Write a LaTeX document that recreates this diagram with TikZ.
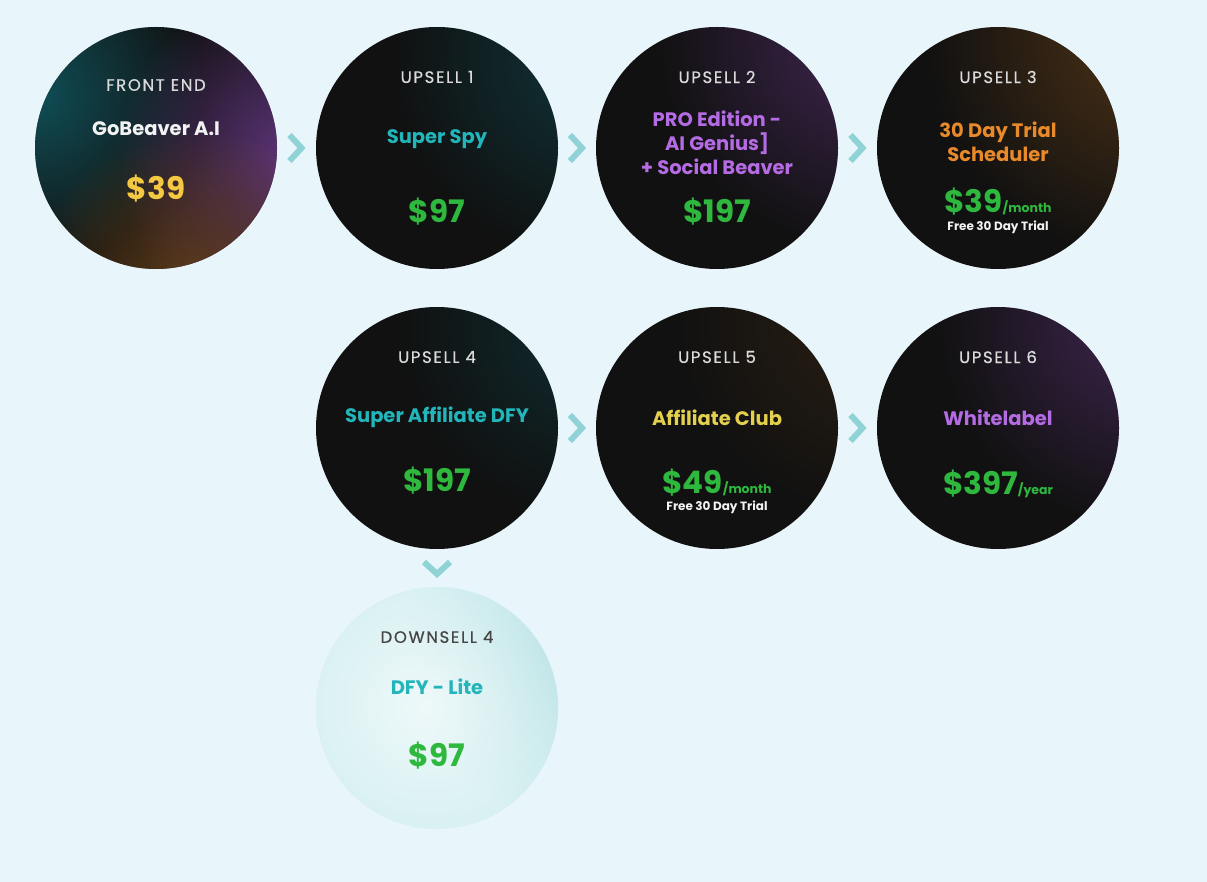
\documentclass[tikz,border=0pt]{standalone}
\usepackage{fontspec}
\setmainfont{Poppins}
\usetikzlibrary{calc,fadings}
\definecolor{bg}{HTML}{E8F5FA}
\definecolor{dark}{HTML}{111111}
\definecolor{lbl}{HTML}{DADADA}
\definecolor{wtxt}{HTML}{F2F2F2}
\definecolor{gold}{HTML}{F5C842}
\definecolor{tealtxt}{HTML}{22B5BA}
\definecolor{purptxt}{HTML}{B46BE3}
\definecolor{orgtxt}{HTML}{E8892A}
\definecolor{yeltxt}{HTML}{E3D04C}
\definecolor{grn}{HTML}{2EB83E}
\definecolor{chev}{HTML}{8FD3D6}
\definecolor{dslbl}{HTML}{454545}
\definecolor{dsbase}{HTML}{CBECEE}
\definecolor{dsedge}{HTML}{9ED8DB}
\definecolor{gteal}{HTML}{0F5E68}
\definecolor{gpurp}{HTML}{6E3C90}
\definecolor{gorg}{HTML}{74481A}
\tikzfading[name=glowfade, inner color=transparent!0, outer color=transparent!100]
\tikzset{
  disc/.style={circle, minimum size=242pt, inner sep=0pt, fill=dark},
  dsdisc/.style={circle, minimum size=242pt, inner sep=0pt, fill=dsbase},
  lab/.style={text=lbl, font=\fontsize{16.5}{18}\selectfont\addfontfeatures{LetterSpace=10,FakeBold=0.6}},
  ttl/.style={font=\bfseries\fontsize{19.5}{24}\selectfont, align=center},
  price/.style={text=grn, font=\bfseries\fontsize{31}{32}\selectfont},
  note/.style={text=wtxt, font=\bfseries\fontsize{12}{13}\selectfont},
  chevline/.style={draw=chev, line width=6pt, miter limit=10}
}
\newcommand{\glowat}[4]{\fill[#2, path fading=glowfade, fill opacity=#4] (#1) circle (#3);}
\begin{document}
\begin{tikzpicture}[x=1pt,y=-1pt]
\fill[bg] (0,0) rectangle (1207,882);
\useasboundingbox (0,0) rectangle (1207,882);

% circles
\node[disc] (fe) at (156,148) {};
\node[disc] (u1) at (437,148) {};
\node[disc] (u2) at (717,148) {};
\node[disc] (u3) at (998,148) {};
\node[disc] (u4) at (437,428) {};
\node[disc] (u5) at (717,428) {};
\node[disc] (u6) at (998,428) {};
\node[dsdisc] (d4) at (437,708) {};

% glows
\begin{scope}
\clip (fe.center) circle (121pt);
\glowat{35,95}{gteal}{170pt}{0.8}
\glowat{295,160}{gpurp}{180pt}{0.85}
\glowat{195,295}{gorg}{170pt}{0.8}
\end{scope}
\begin{scope}
\clip (u1.center) circle (121pt);
\glowat{590,60}{gteal}{200pt}{0.45}
\end{scope}
\begin{scope}
\clip (u2.center) circle (121pt);
\glowat{865,40}{gpurp}{210pt}{0.5}
\end{scope}
\begin{scope}
\clip (u3.center) circle (121pt);
\glowat{1145,40}{gorg}{220pt}{0.6}
\end{scope}
\begin{scope}
\clip (u4.center) circle (121pt);
\glowat{590,330}{gteal}{190pt}{0.35}
\end{scope}
\begin{scope}
\clip (u5.center) circle (121pt);
\glowat{870,320}{gorg}{200pt}{0.25}
\end{scope}
\begin{scope}
\clip (u6.center) circle (121pt);
\glowat{1145,320}{gpurp}{210pt}{0.5}
\end{scope}
\begin{scope}
\clip (d4.center) circle (121pt);
\glowat{575,650}{dsedge}{170pt}{0.8}
\glowat{430,705}{white}{200pt}{0.7}
\end{scope}

% chevrons
\foreach \a/\b/\n in {fe/u1/c1, u1/u2/c2, u2/u3/c3, u4/u5/c4, u5/u6/c5}{
  \coordinate (\n) at ($(\a.east)!0.5!(\b.west)$);
  \draw[chevline] ($(\n)+(-7,-13)$) -- ($(\n)+(5,0)$) -- ($(\n)+(-7,13)$);
}
\coordinate (c6) at ($(u4.south)!0.5!(d4.north)$);
\draw[chevline] ($(c6)+(-13,-6)$) -- ($(c6)+(0,6)$) -- ($(c6)+(13,-6)$);

% Front end
\node[lab] (fel) at (156,85) {FRONT END};
\node[ttl, text=wtxt] (fet) at (156,129) {GoBeaver A.I};
\node[price, text=gold] (fep) at (156,189) {\$39};

% Upsell 1
\node[lab] (u1l) at (437,77) {UPSELL 1};
\node[ttl, text=tealtxt] (u1t) at (437,139) {Super Spy};
\node[price] (u1p) at (437,212) {\$97};

% Upsell 2
\node[lab] (u2l) at (717,77) {UPSELL 2};
\node[ttl, text=purptxt] (u2t) at (717,143) {PRO Edition -\\AI Genius]\\+ Social Beaver};
\node[price] (u2p) at (717,212) {\$197};

% Upsell 3
\node[lab] (u3l) at (998,77) {UPSELL 3};
\node[ttl, text=orgtxt] (u3t) at (998,142) {30 Day Trial\\Scheduler};
\node[price, anchor=base] (u3p) at (998,213) {\$39{\fontsize{12.5}{14}\selectfont/month}};
\node[note] (u3n) at (998,227) {Free 30 Day Trial};

% Upsell 4
\node[lab] (u4l) at (437,357) {UPSELL 4};
\node[ttl, text=tealtxt] (u4t) at (437,417) {Super Affiliate DFY};
\node[price] (u4p) at (437,481) {\$197};

% Upsell 5
\node[lab] (u5l) at (717,357) {UPSELL 5};
\node[ttl, text=yeltxt] (u5t) at (717,418) {Affiliate Club};
\node[price, anchor=base] (u5p) at (717,493) {\$49{\fontsize{12.5}{14}\selectfont/month}};
\node[note] (u5n) at (717,507) {Free 30 Day Trial};

% Upsell 6
\node[lab] (u6l) at (998,357) {UPSELL 6};
\node[ttl, text=purptxt] (u6t) at (998,418) {Whitelabel};
\node[price, anchor=base] (u6p) at (998,494) {\$397{\fontsize{12.5}{14}\selectfont/year}};

% Downsell 4
\node[lab, text=dslbl] (d4l) at (437,637) {DOWNSELL 4};
\node[ttl, text=tealtxt] (d4t) at (437,687) {DFY - Lite};
\node[price] (d4p) at (437,756) {\$97};
\end{tikzpicture}
\end{document}
